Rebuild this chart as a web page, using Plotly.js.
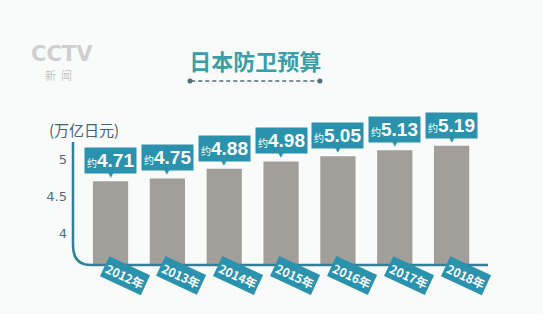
<!DOCTYPE html>
<html><head><meta charset="utf-8">
<script src="https://cdn.plot.ly/plotly-3.0.1.min.js"></script>
<style>html,body{margin:0;padding:0;background:#f9fbfb;}</style>
</head><body>
<div id="chart" style="width:543px;height:314px;"></div>
<script>
const years = ['2012年','2013年','2014年','2015年','2016年','2017年','2018年'];
const budget = [4.71, 4.75, 4.88, 4.98, 5.05, 5.13, 5.19];
const yTicks = [4, 4.5, 5];
const unitLabel = '(万亿日元)';
const chartTitle = '日本防卫预算';

const teal = '#2b92ad';
const numFont = '"Liberation Sans", "Noto Sans CJK SC", sans-serif';
const cjk = '"Noto Sans CJK SC", sans-serif';

const ann = [];
years.forEach((yr, i) => {
  ann.push({x: yr, y: budget[i], xref: 'x', yref: 'y', yanchor: 'bottom', yshift: 7,
    text: '<span style="font-size:10px">约</span><b>' + budget[i].toFixed(2) + '</b>',
    font: {family: numFont, size: 19, color: '#ffffff'}, bgcolor: teal, borderpad: 2, showarrow: false});
  ann.push({x: yr, y: budget[i], xref: 'x', yref: 'y', yanchor: 'bottom', yshift: 0,
    text: '▼', font: {family: 'DejaVu Sans', size: 7, color: teal}, showarrow: false});
  ann.push({x: yr, y: -0.052, xref: 'x', yref: 'paper', xshift: 14, yanchor: 'middle', xanchor: 'center',
    text: '<b>' + yr + '</b>', textangle: 25, font: {family: cjk, size: 12, color: '#ffffff'},
    bgcolor: teal, borderpad: 2, showarrow: false});
});
ann.push({x: 0.0265, y: 0.663, xref: 'paper', yref: 'paper', xanchor: 'center', yanchor: 'middle',
  text: unitLabel, showarrow: false, font: {family: cjk, size: 15, color: '#4a6272'}});
ann.push({x: -0.027, y: 1.03, xref: 'paper', yref: 'paper', xanchor: 'center', yanchor: 'middle',
  text: '<b>CCTV</b>', showarrow: false, font: {family: 'DejaVu Sans', size: 21, color: '#cfcfcf'}});
ann.push({x: -0.035, y: 0.925, xref: 'paper', yref: 'paper', xanchor: 'center', yanchor: 'middle',
  text: '新  闻', showarrow: false, font: {family: cjk, size: 11, color: '#c4c4c4'}});

const shapes = [
  {type: 'path', xref: 'paper', yref: 'paper', path: 'M 0,0.6 L 0,0.095 Q 0,0 0.043,0 L 1,0',
    line: {color: '#2f8199', width: 2.5}},
  {type: 'line', xref: 'paper', yref: 'paper', x0: 0.285, x1: 0.592, y0: 0.8976, y1: 0.8976,
    line: {color: '#4f6d7a', width: 1.5, dash: '4px,3px'}},
  {type: 'circle', xref: 'paper', yref: 'paper', xsizemode: 'pixel', ysizemode: 'pixel',
    xanchor: 0.282, yanchor: 0.8976, x0: -2.5, x1: 2.5, y0: -2.5, y1: 2.5, fillcolor: '#4f6d7a', line: {width: 0}},
  {type: 'circle', xref: 'paper', yref: 'paper', xsizemode: 'pixel', ysizemode: 'pixel',
    xanchor: 0.595, yanchor: 0.8976, x0: -2.5, x1: 2.5, y0: -2.5, y1: 2.5, fillcolor: '#4f6d7a', line: {width: 0}}
];

const data = [{type: 'bar', x: years, y: budget, width: 0.62, base: 0,
  marker: {color: '#a29f9b', line: {width: 0}}, hoverinfo: 'skip'}];

const layout = {
  width: 543, height: 314,
  margin: {l: 73, r: 55, t: 60, b: 49},
  paper_bgcolor: '#f9fbfb', plot_bgcolor: '#f9fbfb',
  showlegend: false,
  title: {text: '<b>' + chartTitle + '</b>', x: 0.47, xanchor: 'center', y: 0.803, yanchor: 'middle',
    font: {family: cjk, size: 22, color: '#3a9ea6'}},
  xaxis: {type: 'category', range: [-0.66, 6.64], showticklabels: false, showline: false,
    showgrid: false, zeroline: false, ticks: '', fixedrange: true},
  yaxis: {range: [3.58, 6.35], tickvals: yTicks, ticktext: yTicks.map(String), showline: false,
    showgrid: false, zeroline: false, ticks: '', ticklabelstandoff: 5,
    tickfont: {family: '"DejaVu Sans", sans-serif', size: 13, color: '#4e6b80'}},
  annotations: ann,
  shapes: shapes
};
Plotly.newPlot('chart', data, layout, {displayModeBar: false, staticPlot: true});
</script>
</body></html>
